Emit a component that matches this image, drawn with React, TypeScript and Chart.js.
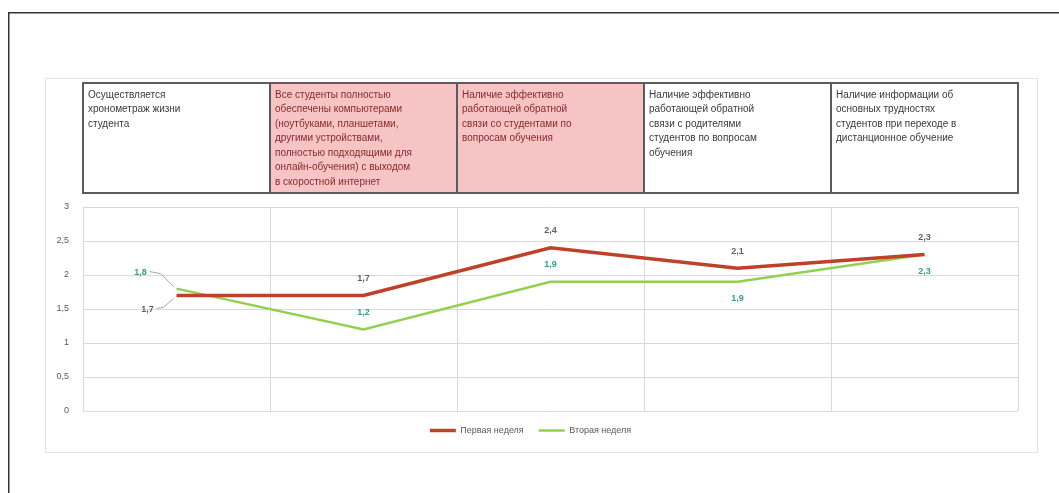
import React, { useEffect, useRef } from "react";
import { Chart, registerables } from "chart.js";

Chart.register(...registerables);

const headerLines: string[][] = [
  ["Осуществляется", "хронометраж жизни", "студента"],
  [
    "Все студенты полностью",
    "обеспечены компьютерами",
    "(ноутбуками, планшетами,",
    "другими устройствами,",
    "полностью подходящими для",
    "онлайн-обучения) с выходом",
    "в скоростной интернет",
  ],
  ["Наличие эффективно", "работающей обратной", "связи со студентами по", "вопросам обучения"],
  ["Наличие эффективно", "работающей обратной", "связи с родителями", "студентов по вопросам", "обучения"],
  ["Наличие информации об", "основных трудностях", "студентов при переходе в", "дистанционное обучение"],
];
const highlighted: boolean[] = [false, true, true, false, false];
const categories: string[] = headerLines.map((l) => l.join(" "));

const week1Label = "Первая неделя";
const week2Label = "Вторая неделя";
const week1: number[] = [1.7, 1.7, 2.4, 2.1, 2.3];
const week2: number[] = [1.8, 1.2, 1.9, 1.9, 2.3];

const yTicks: number[] = [0, 0.5, 1, 1.5, 2, 2.5, 3];

const RED = "#bf4129";
const GREEN = "#92d050";
const RED_LABEL = "#6b5b67";
const GREEN_LABEL = "#3a9a8c";

const fmt = (v: number) => String(v).replace(".", ",");

const decorPlugin = {
  id: "decor",
  beforeDraw(chart: any) {
    const ctx = chart.ctx;
    ctx.save();
    ctx.strokeStyle = "#333333";
    ctx.lineWidth = 1.5;
    ctx.beginPath();
    ctx.moveTo(8.75, 493);
    ctx.lineTo(8.75, 12.75);
    ctx.lineTo(1059, 12.75);
    ctx.stroke();
    ctx.strokeStyle = "#e3e3e3";
    ctx.lineWidth = 1;
    ctx.strokeRect(45.5, 78.5, 992, 374);
    ctx.restore();
  },
  afterDraw(chart: any) {
    const ctx = chart.ctx;
    const xs = chart.scales.x;
    const area = chart.chartArea;
    const w = (area.right - area.left) / categories.length;
    const top = 83;
    const bottom = 193;
    ctx.save();
    categories.forEach((_, i) => {
      const cx = xs.getPixelForValue(i);
      const l = cx - w / 2;
      const r = cx + w / 2;
      if (highlighted[i]) {
        ctx.fillStyle = "#f6c4c4";
        ctx.fillRect(l, top, r - l, bottom - top);
      }
      ctx.save();
      ctx.beginPath();
      ctx.rect(l, top, r - l, bottom - top);
      ctx.clip();
      ctx.fillStyle = highlighted[i] ? "#8a2a2a" : "#3a3a3a";
      ctx.font = "10px 'Liberation Sans', Arial, sans-serif";
      ctx.textAlign = "left";
      ctx.textBaseline = "middle";
      headerLines[i].forEach((line, j) => {
        ctx.fillText(line, l + 5, 95 + j * 14.5);
      });
      ctx.restore();
    });
    ctx.strokeStyle = "#5c5c5c";
    ctx.lineWidth = 2;
    categories.forEach((_, i) => {
      const cx = xs.getPixelForValue(i);
      ctx.strokeRect(cx - w / 2, top, w, bottom - top);
    });
    ctx.restore();
  },
  afterDatasetsDraw(chart: any) {
    const ctx = chart.ctx;
    ctx.save();
    ctx.font = "bold 9px 'Liberation Sans', Arial, sans-serif";
    ctx.textAlign = "center";
    ctx.textBaseline = "middle";
    const m0 = chart.getDatasetMeta(0).data;
    const m1 = chart.getDatasetMeta(1).data;
    m0.forEach((p: any, i: number) => {
      ctx.fillStyle = RED_LABEL;
      const txt = fmt(week1[i]);
      if (i === 0) {
        ctx.fillText(txt, p.x - 29, p.y + 14);
        ctx.strokeStyle = "#a6a6a6";
        ctx.lineWidth = 1;
        ctx.beginPath();
        ctx.moveTo(p.x - 20, p.y + 13);
        ctx.lineTo(p.x - 13, p.y + 12);
        ctx.lineTo(p.x - 3, p.y + 3);
        ctx.stroke();
      } else {
        ctx.fillText(txt, p.x, p.y - 17);
      }
    });
    const below = [false, false, false, true, true];
    m1.forEach((p: any, i: number) => {
      ctx.fillStyle = GREEN_LABEL;
      const txt = fmt(week2[i]);
      if (i === 0) {
        ctx.fillText(txt, p.x - 36, p.y - 16);
        ctx.strokeStyle = "#a6a6a6";
        ctx.lineWidth = 1;
        ctx.beginPath();
        ctx.moveTo(p.x - 27, p.y - 17);
        ctx.lineTo(p.x - 16, p.y - 15);
        ctx.lineTo(p.x - 3, p.y - 2);
        ctx.stroke();
      } else if (below[i]) {
        ctx.fillText(txt, p.x, p.y + 17);
      } else {
        ctx.fillText(txt, p.x, p.y - 17);
      }
    });
    ctx.restore();
  },
};

export default function App() {
  const ref = useRef<HTMLCanvasElement | null>(null);
  useEffect(() => {
    if (!ref.current) return;
    const chart = new Chart(ref.current, {
      type: "line",
      data: {
        labels: categories,
        datasets: [
          {
            label: week1Label,
            data: week1,
            borderColor: RED,
            backgroundColor: RED,
            borderWidth: 3.5,
            pointRadius: 0,
            tension: 0,
          },
          {
            label: week2Label,
            data: week2,
            borderColor: GREEN,
            backgroundColor: GREEN,
            borderWidth: 2.5,
            pointRadius: 0,
            tension: 0,
          },
        ],
      },
      options: {
        animation: false,
        responsive: true,
        maintainAspectRatio: false,
        layout: { padding: { left: 43, right: 41, top: 207, bottom: 48 } },
        plugins: {
          tooltip: { enabled: false },
          legend: {
            position: "bottom",
            labels: {
              usePointStyle: true,
              pointStyle: "line",
              pointStyleWidth: 26,
              boxHeight: 9,
              color: "#595959",
              font: { size: 9, family: "'Liberation Sans', Arial, sans-serif" },
              padding: 15,
            },
          },
        },
        scales: {
          x: {
            offset: true,
            grid: { offset: true, color: "#d9d9d9", drawTicks: false },
            border: { display: false },
            ticks: { display: false },
          },
          y: {
            min: 0,
            max: 3,
            afterBuildTicks: (axis: any) => {
              axis.ticks = yTicks.map((v) => ({ value: v }));
            },
            afterFit: (axis: any) => {
              axis.width = 40;
            },
            grid: { color: "#d9d9d9", drawTicks: false },
            border: { display: false },
            ticks: {
              padding: 14,
              color: "#595959",
              font: { size: 9, family: "'Liberation Sans', Arial, sans-serif" },
              callback: (v: any) => fmt(Number(v)),
            },
          },
        },
      },
      plugins: [decorPlugin],
    });
    return () => chart.destroy();
  }, []);
  return (
    <div style={{ position: "fixed", left: 0, top: 0, width: 1059, height: 493, background: "#fff" }}>
      <canvas ref={ref} />
    </div>
  );
}
